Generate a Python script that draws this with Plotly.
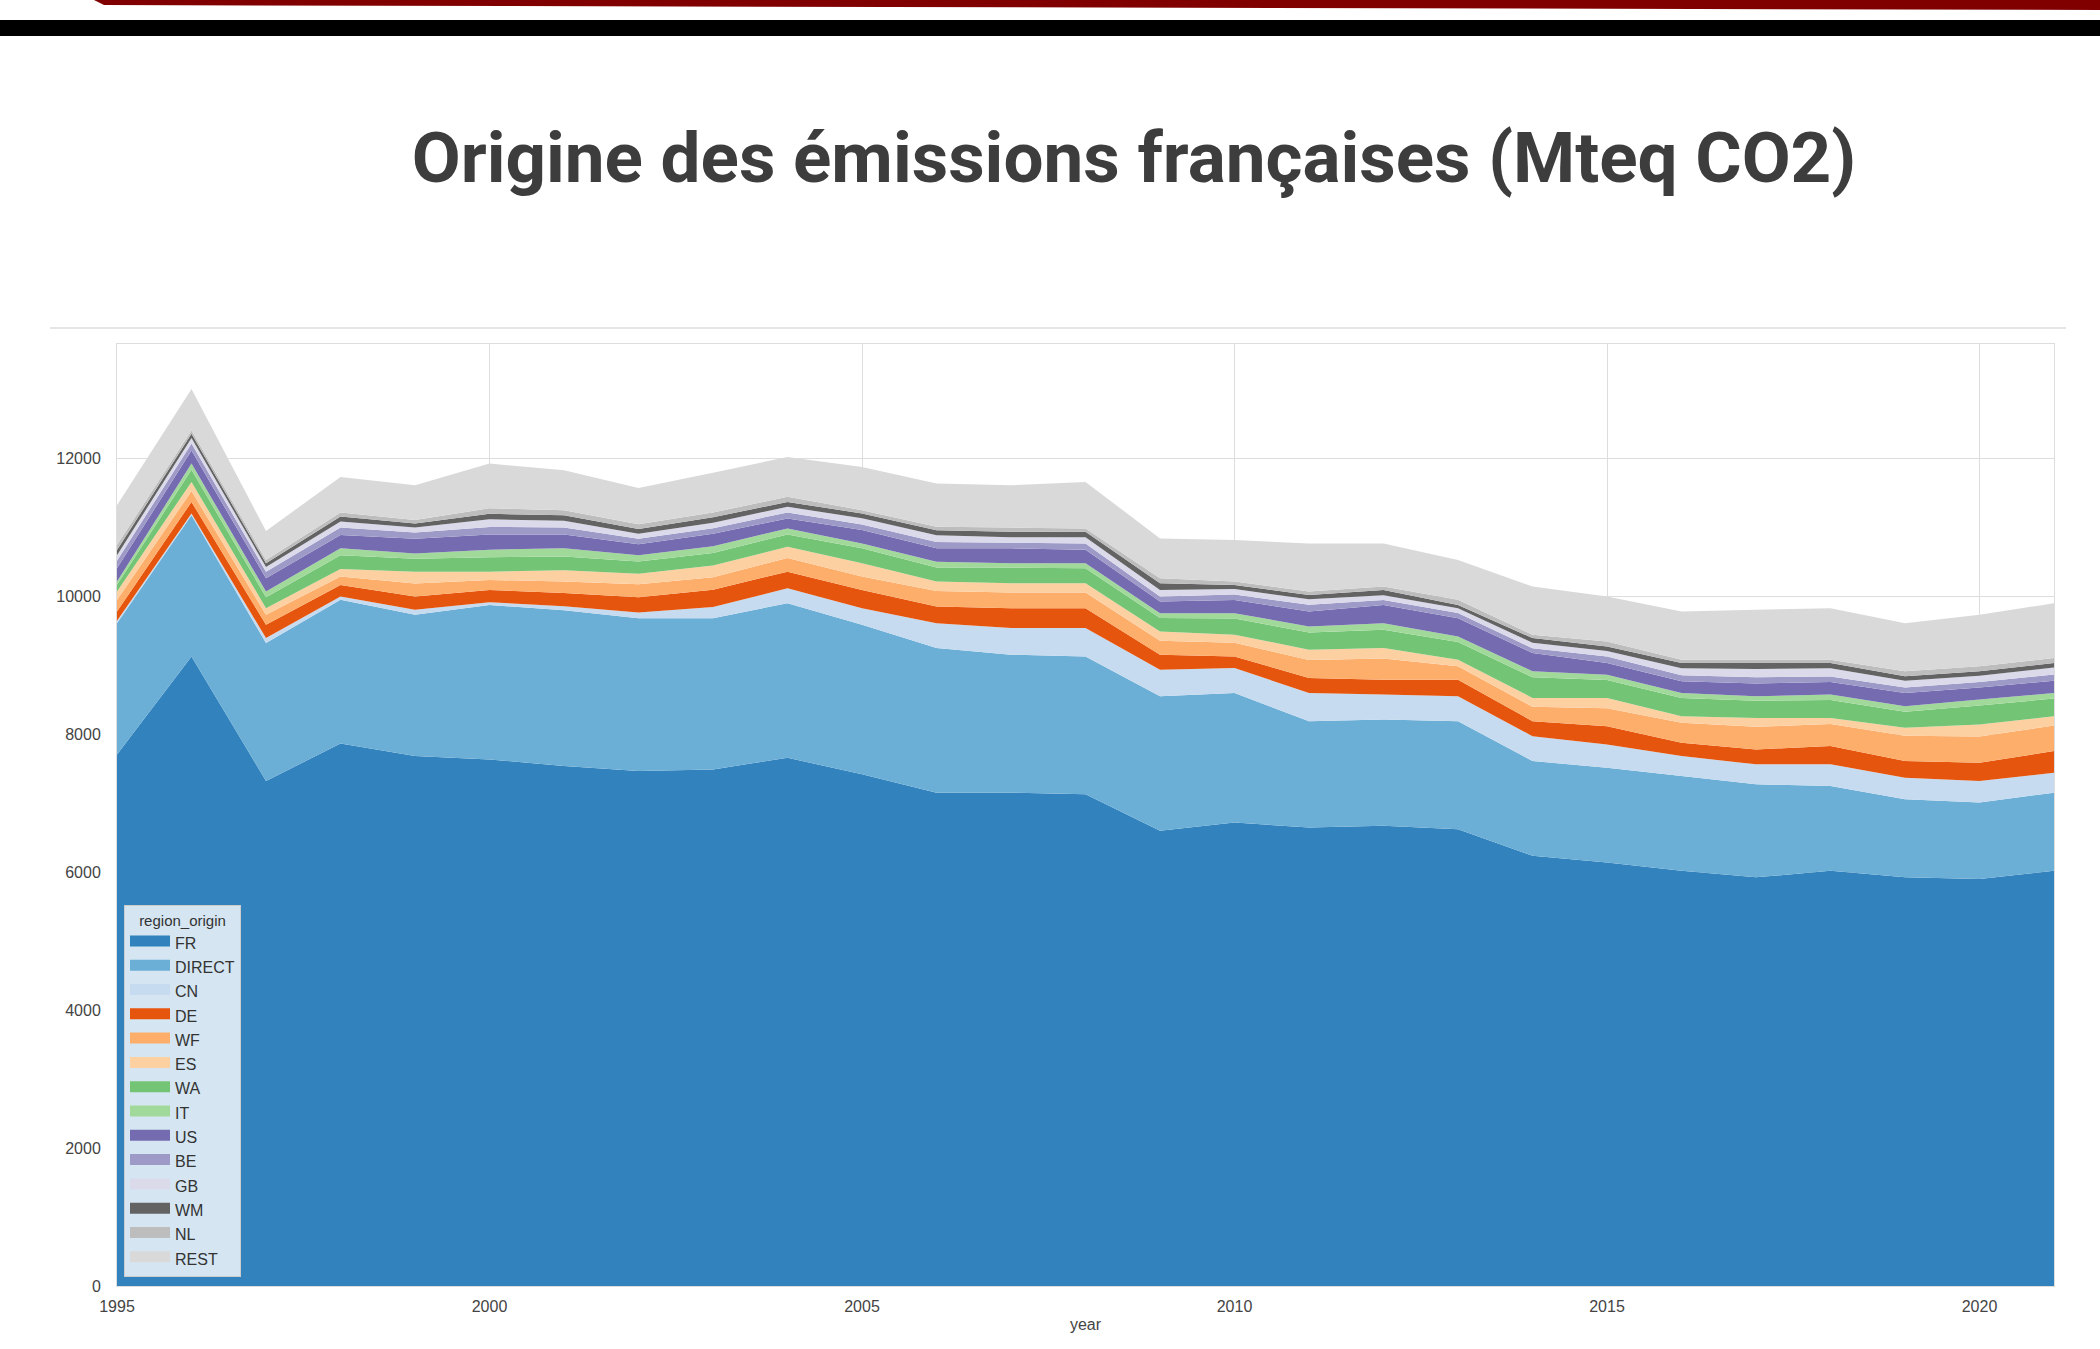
import plotly.graph_objects as go

# années
years = list(range(1995, 2022))

# émissions par région d'origine (Mteq CO2)
FR = [7710, 9132, 7325, 7869, 7686, 7638, 7542, 7469, 7493, 7662, 7421, 7156, 7156, 7132,
      6602, 6722, 6650, 6674, 6626, 6240, 6144, 6023, 5927, 6023, 5927, 5903, 6023]
DIRECT = [1904, 2048, 2000, 2083, 2049, 2241, 2258, 2217, 2193, 2241, 2169, 2097, 2000, 2000,
          1952, 1880, 1542, 1542, 1566, 1374, 1374, 1374, 1349, 1229, 1133, 1109, 1133]
CN = [36, 25, 72, 48, 72, 39, 60, 84, 164, 217, 241, 361, 386, 410,
      385, 361, 410, 362, 362, 361, 337, 289, 290, 314, 313, 313, 289]
DE = [133, 168, 193, 168, 193, 178, 190, 220, 250, 241, 265, 241, 289, 289,
      217, 169, 217, 217, 241, 217, 265, 193, 217, 265, 241, 265, 314]
WF = [167, 157, 145, 122, 190, 144, 170, 190, 180, 199, 193, 225, 229, 229,
      204, 198, 261, 305, 195, 208, 260, 291, 327, 319, 366, 380, 371]
ES = [122, 133, 96, 110, 171, 121, 160, 150, 170, 163, 193, 137, 133, 133,
      134, 116, 149, 153, 94, 130, 150, 95, 130, 90, 116, 174, 135]
WA = [98, 177, 159, 200, 189, 209, 200, 180, 180, 177, 217, 203, 227, 217,
      196, 234, 251, 267, 256, 300, 260, 265, 250, 260, 234, 276, 255]
IT = [47, 88, 82, 100, 76, 110, 120, 90, 100, 88, 72, 86, 62, 72,
      69, 79, 86, 94, 81, 85, 77, 72, 64, 78, 79, 86, 82]
US = [192, 192, 193, 191, 214, 220, 200, 160, 180, 144, 193, 194, 218, 198,
      168, 192, 217, 265, 265, 265, 169, 169, 186, 182, 191, 174, 178]
BE = [111, 100, 95, 109, 90, 110, 100, 80, 80, 88, 80, 90, 80, 90,
      73, 79, 97, 71, 74, 70, 94, 89, 90, 80, 80, 80, 90]
GB = [80, 80, 70, 90, 70, 110, 100, 70, 80, 82, 90, 100, 80, 90,
      96, 80, 80, 70, 70, 80, 80, 100, 120, 120, 100, 90, 100]
WM = [75, 61, 52, 70, 60, 80, 80, 70, 80, 70, 71, 73, 80, 80,
      97, 58, 64, 76, 49, 67, 67, 76, 86, 76, 63, 65, 66]
NL = [72, 49, 48, 60, 50, 80, 70, 70, 70, 74, 48, 49, 60, 48,
      72, 49, 48, 48, 73, 48, 72, 48, 48, 48, 72, 73, 72]
REST = [578, 602, 420, 515, 504, 648, 581, 526, 577, 578, 627, 627, 614, 675,
        578, 602, 699, 627, 578, 699, 651, 699, 723, 747, 699, 747, 795]

regions = ['FR', 'DIRECT', 'CN', 'DE', 'WF', 'ES', 'WA', 'IT', 'US', 'BE', 'GB', 'WM', 'NL', 'REST']
series = [FR, DIRECT, CN, DE, WF, ES, WA, IT, US, BE, GB, WM, NL, REST]
# couleurs tab20c (matplotlib)
colors = ['#3182bd', '#6baed6', '#c6dbef', '#e6550d', '#fdae6b', '#fdd0a2', '#74c476',
          '#a1d99b', '#756bb1', '#9e9ac8', '#dadaeb', '#636363', '#bdbdbd', '#d9d9d9']

fig = go.Figure()
# aires empilées
for name, vals, col in zip(regions, series, colors):
    fig.add_trace(go.Scatter(x=years, y=vals, name=name, stackgroup='one', mode='none',
                             fillcolor=col, showlegend=False))
# entrées de légende (rectangles épais comme matplotlib)
for name, col in zip(regions, colors):
    fig.add_trace(go.Scatter(x=[None], y=[None], name=name, mode='lines', fill='toself',
                             fillcolor=col, line=dict(color=col, width=10), legendgroup=name))

# zone du graphique en pixels : gauche 117, droite 2054, haut 344, bas 1286
W, H = 2100, 1349
L, R, T, B = 117, 2054, 344, 1286
def px_x(x):
    return (x - L) / (R - L)
def px_y(y):
    return (B - y) / (B - T)

font_small = 'Liberation Sans Narrow, Liberation Sans, Arial, sans-serif'
tick_font = dict(family=font_small, size=16, color='#444444')

fig.update_layout(
    width=W, height=H,
    margin=dict(l=L, r=W - R, t=T, b=H - B),
    paper_bgcolor='white', plot_bgcolor='white',
    title=dict(text='<b>Origine des émissions françaises (Mteq CO2)</b>',
               x=1134 / W, xanchor='center', y=1 - 157 / H, yanchor='middle',
               font=dict(family='Roboto', size=71, color='#3d3d3d')),
    legend=dict(x=px_x(124), y=px_y(1277), xanchor='left', yanchor='bottom',
                bgcolor='rgba(255,255,255,0.8)', bordercolor='#cccccc', borderwidth=1,
                traceorder='grouped', tracegroupgap=0.5, itemwidth=40,
                font=dict(family=font_small, size=16, color='#333333'),
                title=dict(text='region_origin', side='top center',
                           font=dict(family=font_small, size=15, color='#333333'))),
    xaxis=dict(range=[1995, 2021], tickvals=[1995, 2000, 2005, 2010, 2015, 2020],
               showgrid=True, gridcolor='#dddddd', gridwidth=1,
               showline=True, mirror=True, linecolor='#dddddd', linewidth=1,
               ticks='', tickfont=tick_font, ticklabelstandoff=6,
               title=dict(text='year', font=tick_font, standoff=4), zeroline=False),
    yaxis=dict(range=[0, 13663], tickvals=[0, 2000, 4000, 6000, 8000, 10000, 12000],
               tickformat='d',
               showgrid=True, gridcolor='#dddddd', gridwidth=1,
               showline=True, mirror=True, linecolor='#dddddd', linewidth=1,
               ticks='', tickfont=tick_font, ticklabelstandoff=12, zeroline=False),
    showlegend=True,
)

# décor de la diapositive : bande rouge, bande noire, filet gris
fig.add_shape(type='path', xref='paper', yref='paper',
              path=f'M {px_x(94)},{px_y(0)} L {px_x(2100)},{px_y(0)} L {px_x(2100)},{px_y(10)} L {px_x(104)},{px_y(5)} Z',
              fillcolor='#800000', line=dict(width=0))
fig.add_shape(type='rect', xref='paper', yref='paper',
              x0=px_x(0), x1=px_x(2100), y0=px_y(36), y1=px_y(20),
              fillcolor='#000000', line=dict(width=0))
fig.add_shape(type='line', xref='paper', yref='paper',
              x0=px_x(50), x1=px_x(2066), y0=px_y(328), y1=px_y(328),
              line=dict(color='#e6e6e6', width=2))

fig.write_html("out.html", config={'displayModeBar': False},
               post_script="document.body.style.margin='0';document.body.style.overflow='hidden';")
